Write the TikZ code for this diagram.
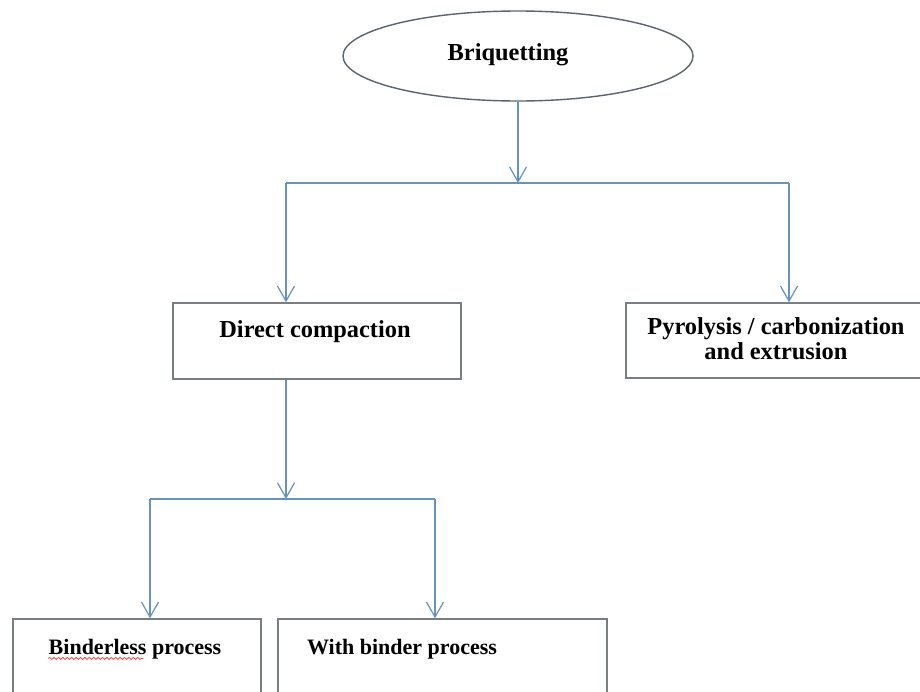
\documentclass[tikz,border=0pt]{standalone}
\usepackage{fontspec}
\setmainfont{Liberation Serif}
\usetikzlibrary{arrows.meta,shapes.geometric,decorations.pathmorphing,calc}
\definecolor{conn}{RGB}{104,146,184}
\definecolor{boxline}{RGB}{120,126,132}
\definecolor{ellline}{RGB}{90,100,112}
\tikzset{
  conline/.style={draw=conn, line width=0.6pt},
  conarrow/.style={conline, -{Straight Barb[length=7.5pt,width=8.5pt,line width=0.6pt]}},
  boxnode/.style={draw=boxline, line width=0.7pt, rectangle, inner sep=0pt},
  txt/.style={font=\fontsize{12.2}{15}\selectfont\bfseries, inner sep=0pt, align=center},
  smalltxt/.style={font=\fontsize{11}{13}\selectfont\bfseries, inner sep=0pt, align=center},
}
\begin{document}
\begin{tikzpicture}[x=0.5pt,y=-0.5pt]
\useasboundingbox[fill=white] (0,0) rectangle (920,691);
% ellipse
\node[ellipse, draw=ellline, line width=0.7pt, minimum width=175pt, minimum height=45pt, inner sep=0pt] (brq) at (518,56) {};
\node[txt] (brqt) at (508,55) {Briquetting};
% boxes
\node[boxnode, minimum width=144pt, minimum height=38pt] (dc) at (317,341) {};
\node[txt] (dct) at (315,332) {Direct compaction};
\node[boxnode, minimum width=152pt, minimum height=37.5pt] (py) at (778,340.5) {};
\node[txt, font=\fontsize{12.2}{12.6}\selectfont\bfseries] (pyt) at (776,339) {Pyrolysis / carbonization\\and extrusion};
\node[boxnode, minimum width=124pt, minimum height=50pt] (bl) at (137,669) {};
\node[smalltxt, anchor=base] (blt) at (135,654) {Binderless process};
\node[boxnode, minimum width=164.5pt, minimum height=50pt] (wb) at (442.5,669) {};
\node[smalltxt, anchor=base] (wbt) at (402,654) {With binder process};
% spell-check underline
\draw[red!75, line width=0.4pt, decorate, decoration={snake, amplitude=0.5pt, segment length=2.2pt}]
  ($(blt.base west)+(0,-2.2pt)$) -- ++(47.5pt,0);
% connectors
\coordinate (j1) at (518,183);
\coordinate (j1l) at (286,183);
\coordinate (j1r) at (789,183);
\draw[conarrow] (brq.south) -- (j1);
\draw[conline] (j1l) -- (j1r);
\draw[conarrow] (j1l) -- (j1l |- dc.north);
\draw[conarrow] (j1r) -- (j1r |- py.north);
\coordinate (j2) at (286,499);
\coordinate (j2l) at (150,499);
\coordinate (j2r) at (435,499);
\draw[conarrow] (j2 |- dc.south) -- (j2);
\draw[conline] (j2l) -- (j2r);
\draw[conarrow] (j2l) -- (j2l |- bl.north);
\draw[conarrow] (j2r) -- (j2r |- wb.north);
\end{tikzpicture}
\end{document}
